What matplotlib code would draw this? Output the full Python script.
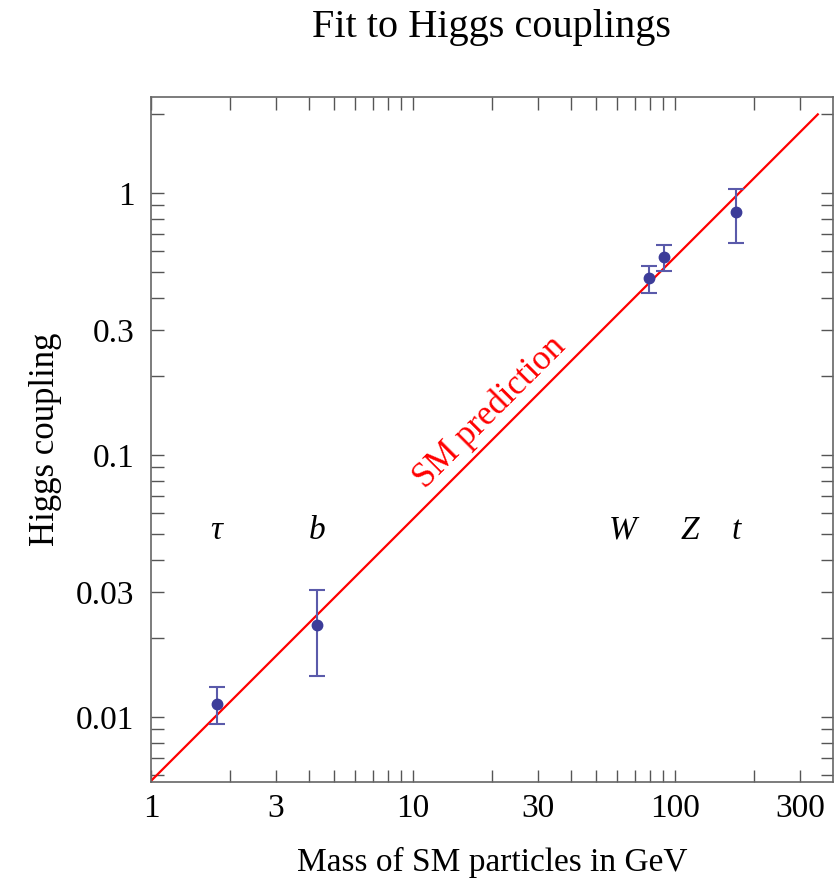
import numpy as np
import matplotlib
matplotlib.use("Agg")
import matplotlib.pyplot as plt

# data
particles = ["τ", "b", "W", "Z", "t"]
mass = [1.78, 4.3, 79.6, 91.0, 171.0]
coupling = [0.0112, 0.0224, 0.474, 0.570, 0.846]
err_hi = [0.0130, 0.0305, 0.526, 0.633, 1.035]
err_lo = [0.0094, 0.0144, 0.415, 0.504, 0.644]
label_x = [1.78, 4.3, 62.8, 114.0, 171.0]
label_y = 0.0517

v_sm = 175.0           # SM line: coupling = m / v
sm_x = [1.0, 350.0]
sm_y = [m / v_sm for m in sm_x]

xticks_major = [1, 3, 10, 30, 100, 300]
yticks_major = [0.01, 0.03, 0.1, 0.3, 1]

plt.rcParams['font.family'] = ['Liberation Serif', 'DejaVu Serif']

fig = plt.figure(figsize=(8.4, 8.8), dpi=100)
ax = fig.add_axes([151 / 840, 1 - 782 / 880, 682 / 840, 685 / 880])
ax.set_xscale('log')
ax.set_yscale('log')
ax.set_xlim(1, 400)
ax.set_ylim(0.00566, 2.33)

# SM prediction line
ax.plot(sm_x, sm_y, color='#ff0000', lw=1.6, zorder=2)

# measured couplings
pt_color = '#3c3c99'
yerr = [np.array(coupling) - np.array(err_lo), np.array(err_hi) - np.array(coupling)]
ax.errorbar(mass, coupling, yerr=yerr, fmt='o', color=pt_color, ecolor='#5a5aaa',
            ms=7.5, elinewidth=1.5, capsize=6, capthick=1.5, zorder=3)

for name, lx in zip(particles, label_x):
    ax.text(lx, label_y, name, style='italic', fontsize=24, ha='center', va='center')

ax.text(19.7, 0.146, "SM prediction", color='#ff0000', fontsize=25, rotation=45,
        rotation_mode='anchor', ha='center', va='center')

# ticks: all log positions, labels only on a few
def all_log_ticks(lo, hi):
    out = []
    for e in range(-3, 4):
        for s in range(1, 10):
            v = s * 10.0 ** e
            if lo * 1.0001 < v < hi * 0.9999:
                out.append(v)
    return out

def fmt(v):
    return ("%g" % v)

xt = [1] + all_log_ticks(1, 400)
yt = all_log_ticks(0.00566, 2.33)
ax.set_xticks(xt)
ax.set_xticklabels([fmt(v) if any(abs(v - m) < 1e-9 for m in xticks_major) else '' for v in xt])
ax.set_yticks(yt)
ax.set_yticklabels([fmt(v) if any(abs(v - m) / m < 1e-6 for m in yticks_major) else '' for v in yt])
ax.minorticks_off()
ax.tick_params(axis='both', which='both', direction='in', length=9, width=1,
               color='#555555', labelsize=24, top=True, right=True)
ax.tick_params(axis='x', pad=8)
ax.tick_params(axis='y', pad=12)

for sp in ax.spines.values():
    sp.set_color('#666666')
    sp.set_linewidth(1.2)

ax.set_xlabel("Mass of SM particles in GeV", fontsize=24, labelpad=17)
ax.set_ylabel("Higgs coupling", fontsize=25, labelpad=10)
fig.text(491 / 840, 1 - 28 / 880, "Fit to Higgs couplings", fontsize=29,
         ha='center', va='center')

fig.savefig("out.png", dpi=100)
